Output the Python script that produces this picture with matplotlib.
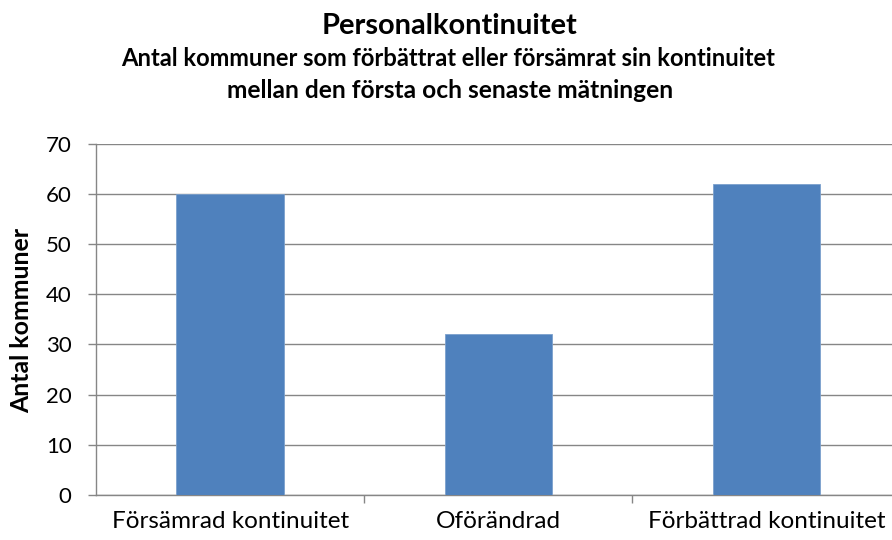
import matplotlib
matplotlib.use("Agg")
import matplotlib.pyplot as plt
import numpy as np

categories = ["Försämrad kontinuitet", "Oförändrad", "Förbättrad kontinuitet"]
values = [60, 32, 62]
yticks = [0, 10, 20, 30, 40, 50, 60, 70]
title = "Personalkontinuitet"
subtitle1 = "Antal kommuner som förbättrat eller försämrat sin kontinuitet"
subtitle2 = "mellan den första och senaste mätningen"
ylabel = "Antal kommuner"

FONT = ["Lato", "DejaVu Sans"]
plt.rcParams["font.family"] = FONT

W, H = 892, 540
fig = plt.figure(figsize=(W / 100, H / 100), dpi=100)
fig.patch.set_facecolor("white")

left, right, bottom, top = 96, 900.6, 495, 143.5
ax = fig.add_axes([left / W, 1 - bottom / H, (right - left) / W, (bottom - top) / H])

grey = "#868686"
x = np.arange(len(categories))
ax.bar(x, values, width=0.40, color="#4F81BD", edgecolor="#7BA0CD", linewidth=0.6, zorder=3)
ax.set_xlim(-0.5, len(categories) - 0.5)
ax.set_ylim(0, 70)
ax.set_yticks(yticks)
ax.yaxis.grid(True, color=grey, linewidth=1.0, zorder=0)
ax.set_axisbelow(True)

for s in ["top", "right"]:
    ax.spines[s].set_visible(False)
for s in ["left", "bottom"]:
    ax.spines[s].set_color(grey)
    ax.spines[s].set_linewidth(1.0)

ax.tick_params(axis="y", direction="out", length=6, width=1.0, color=grey, pad=11.5, labelsize=16, labelcolor="black")
ax.set_xticks(np.arange(len(categories) - 1) + 0.5)
ax.set_xticklabels([])
ax.tick_params(axis="x", direction="out", length=6, width=1.0, color=grey)

renderer = fig.canvas.get_renderer()

def fit(t, target):
    for _ in range(3):
        w = t.get_window_extent(renderer).width
        t.set_fontsize(t.get_fontsize() * target / w)

targets = [237, 125, 237]
for i, c in enumerate(categories):
    t = ax.text(i, 0, c, transform=ax.get_xaxis_transform(), ha="center", va="center", fontsize=14)
    t.set_y(-(521 - bottom) / (bottom - top))
    fit(t, targets[i])

t1 = fig.text(450 / W, 1 - 26 / H, title, ha="center", va="center", fontsize=18, fontweight="bold")
fit(t1, 256)
t2 = fig.text(448 / W, 1 - 59 / H, subtitle1, ha="center", va="center", fontsize=13, fontweight="bold")
fit(t2, 660)
t3 = fig.text(450 / W, 1 - 91 / H, subtitle2, ha="center", va="center", fontsize=13, fontweight="bold")
fit(t3, 445)

yl = fig.text(22 / W, 1 - 320 / H, ylabel, ha="center", va="center", rotation=90, fontsize=13, fontweight="bold")
for _ in range(3):
    h = yl.get_window_extent(renderer).height
    yl.set_fontsize(yl.get_fontsize() * 186 / h)

fig.savefig("out.png", dpi=100, facecolor="white")
